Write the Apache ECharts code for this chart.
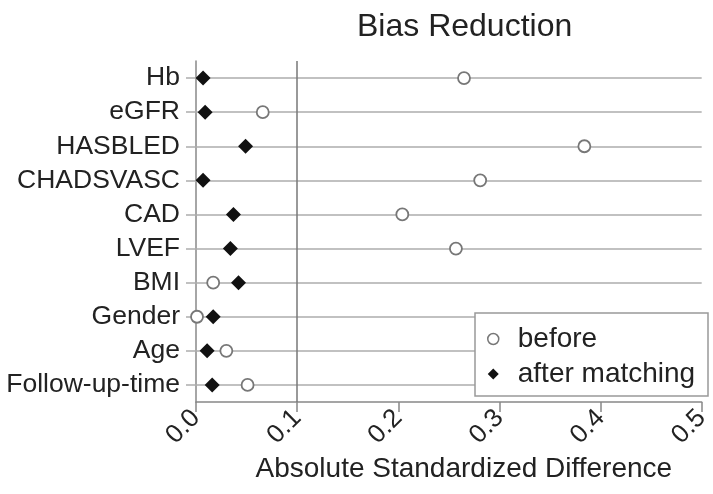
<!DOCTYPE html>
<html>
<head>
<meta charset="utf-8">
<script src="https://cdn.jsdelivr.net/npm/echarts@6/dist/echarts.min.js"></script>
<style>
  html, body { margin: 0; padding: 0; background: #fff; }
  #chart { width: 713px; height: 494px; }
</style>
</head>
<body>
<div id="chart"></div>
<script>
// Covariates, listed top to bottom
const categories = ['Hb', 'eGFR', 'HASBLED', 'CHADSVASC', 'CAD', 'LVEF', 'BMI', 'Gender', 'Age', 'Follow-up-time'];
// Absolute standardized difference before matching
const beforeValues = [0.265, 0.066, 0.384, 0.281, 0.204, 0.257, 0.017, 0.001, 0.030, 0.051];
// Absolute standardized difference after matching
const afterValues = [0.007, 0.009, 0.049, 0.007, 0.037, 0.034, 0.042, 0.017, 0.011, 0.016];
// X axis tick values
const xTicks = [0.0, 0.1, 0.2, 0.3, 0.4, 0.5];
const threshold = 0.1;

const FONT = '"Liberation Sans", Arial, sans-serif';

const chart = echarts.init(document.getElementById('chart'), null, { renderer: 'canvas' });

const rowLines = categories.map(c => ({
  yAxis: c,
  lineStyle: { color: '#adadad', width: 1.5, type: 'solid' }
}));

chart.setOption({
  animation: false,
  backgroundColor: '#ffffff',
  title: {
    text: 'Bias Reduction',
    left: 352,
    top: 6,
    textStyle: { fontFamily: FONT, fontSize: 32, fontWeight: 'normal', color: '#222' }
  },
  grid: { left: 196, right: 5, top: 61, bottom: 92, containLabel: false },
  xAxis: {
    type: 'value',
    min: xTicks[0],
    max: xTicks[xTicks.length - 1],
    interval: 0.1,
    name: 'Absolute Standardized Difference',
    nameLocation: 'middle',
    nameGap: 46,
    nameTextStyle: { fontFamily: FONT, fontSize: 28, color: '#222', padding: [0, 0, 0, 30] },
    axisLine: { show: true, lineStyle: { color: '#888', width: 1.5 } },
    axisTick: { show: true, length: 10, lineStyle: { color: '#888', width: 1.5 } },
    axisLabel: {
      rotate: 45,
      margin: 12,
      fontFamily: FONT,
      fontSize: 26,
      color: '#222',
      formatter: v => v.toFixed(1)
    },
    splitLine: { show: false }
  },
  yAxis: {
    type: 'category',
    data: categories,
    inverse: true,
    axisLine: { show: true, lineStyle: { color: '#888', width: 1.5 } },
    axisTick: { show: true, alignWithLabel: true, interval: 0, length: 10, lineStyle: { color: '#adadad', width: 1.5 } },
    axisLabel: { interval: 0, fontFamily: FONT, fontSize: 26.5, color: '#222', margin: 16 },
    splitLine: { show: false }
  },
  legend: {
    orient: 'vertical',
    left: 482,
    top: 320,
    itemWidth: 11,
    itemHeight: 11,
    itemGap: 7,
    z: 10,
    textStyle: { fontFamily: FONT, fontSize: 28, color: '#222', lineHeight: 26, padding: [0, 0, 0, 14] },
    data: [
      { name: 'before', icon: 'circle', itemStyle: { color: '#fff', borderColor: '#777', borderWidth: 1.5 } },
      { name: 'after matching', icon: 'diamond', itemStyle: { color: '#111' } }
    ]
  },
  graphic: [{
    type: 'rect',
    z: 5,
    shape: { x: 475, y: 313, width: 233, height: 83 },
    style: { fill: '#fff', stroke: '#999', lineWidth: 1.5 }
  }],
  series: [
    {
      name: 'before',
      type: 'scatter',
      symbol: 'circle',
      symbolSize: 12,
      itemStyle: { color: '#fff', borderColor: '#777', borderWidth: 1.8, opacity: 1 },
      data: categories.map((c, i) => [beforeValues[i], c]),
      z: 3,
      markLine: {
        silent: true,
        symbol: 'none',
        label: { show: false },
        z: 1,
        data: rowLines.concat([{ xAxis: threshold, lineStyle: { color: '#777', width: 1.5, type: 'solid' } }])
      }
    },
    {
      name: 'after matching',
      type: 'scatter',
      symbol: 'diamond',
      symbolSize: 15,
      itemStyle: { color: '#111', opacity: 1 },
      data: categories.map((c, i) => [afterValues[i], c]),
      z: 4
    }
  ]
});
</script>
</body>
</html>
